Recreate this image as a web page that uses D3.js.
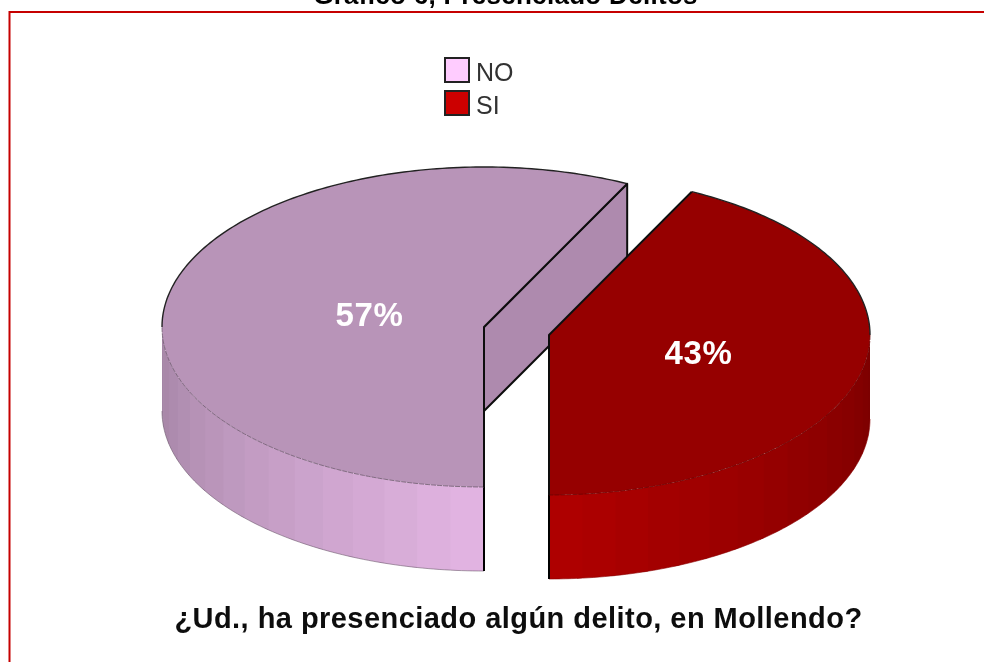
<!DOCTYPE html>
<html><head><meta charset="utf-8">
<script src="https://cdnjs.cloudflare.com/ajax/libs/d3/7.8.5/d3.min.js"></script>
<style>html,body{margin:0;padding:0;background:#fff;overflow:hidden}svg{display:block}text{font-family:"Liberation Sans",Arial,sans-serif}</style>
</head><body><svg id="c" width="984" height="662"></svg>
<script>
const categories = ["NO", "SI"];
const values = [57, 43];
const labels = ["57%", "43%"];
const legendColors = ["#ffccff", "#cc0000"];
const chartTitle = "Gráfico 6, Presenciado Delitos";
const axisTitle = "¿Ud., ha presenciado algún delito, en Mollendo?";

const svg = d3.select("#c");
const defs = svg.append("defs");
const soft = defs.append("filter").attr("id","soft").attr("x","-5%").attr("y","-5%").attr("width","110%").attr("height","110%");
soft.append("feGaussianBlur").attr("stdDeviation",0.45);
const softText = defs.append("filter").attr("id","softText").attr("x","-5%").attr("y","-20%").attr("width","110%").attr("height","140%");
softText.append("feGaussianBlur").attr("stdDeviation",0.35);

const deg = Math.PI/180;
const arcs = d3.pie().sort(null).value(d=>d).startAngle(Math.PI).endAngle(3*Math.PI)(values);
// the 3D projection shifts the cut slightly from the true pie angle
const tilt = d3.scaleLinear().domain([Math.PI, arcs[0].endAngle, 3*Math.PI]).range([Math.PI, 386.4*deg, 3*Math.PI]);

const geo = [
  {cx:484, cy:327, rx:322, ry:160, depth:84, top:"#b894b8", cut:"#ae8aae", low:"#a283a3", high:"#e3b5e3", from:180, to:270},
  {cx:549, cy:335, rx:321, ry:160, depth:84, top:"#960000", cut:"#960000", low:"#7a0000", high:"#b00000", from:90, to:180}
];
const pt = (g,a,dy=0)=>[g.cx+g.rx*Math.sin(a), g.cy-g.ry*Math.cos(a)+dy];
const line = d3.line();
const arcPts = (g,a0,a1,dy=0)=>{
  const n = Math.max(2,Math.ceil(Math.abs(a1-a0)/deg));
  return d3.range(n+1).map(i=>pt(g,a0+(a1-a0)*i/n,dy));
};

// frame
svg.append("path").attr("d",line([[9.5,662],[9.5,12],[984,12]]))
  .attr("fill","none").attr("stroke","#c60000").attr("stroke-width",2);

// title (cut by the top of the picture, as in the reference)
svg.append("text").attr("x",505.5).attr("y",4).attr("text-anchor","middle")
  .attr("font-size",26).attr("letter-spacing",0.3).attr("font-weight","bold").attr("fill","#000")
  .attr("filter","url(#softText)").text(chartTitle);

const chart = svg.append("g").attr("filter","url(#soft)");

arcs.forEach((d,i)=>{
  const g = geo[i], gr = chart.append("g");
  const isNo = i===0;
  const sa = tilt(d.startAngle), ea = tilt(d.endAngle);
  const color = d3.scaleLinear().domain(isNo?[g.to,g.from]:[g.from,g.to]).range([g.low,g.high]);
  const c=[g.cx,g.cy];
  // inner cut face of NO, seen through the gap
  if(isNo){
    const e = pt(g,ea);
    gr.append("path").attr("d",line([c,e,[e[0],e[1]+g.depth],[c[0],c[1]+g.depth]])+"Z")
      .attr("fill",g.cut).attr("stroke","#111").attr("stroke-width",2).attr("stroke-linejoin","round");
  }
  // shaded outer wall: painted so that each strip overlaps the next
  const step = 6;
  const edges = d3.range(g.from,g.to,step).concat([g.to]);
  const pairs = d3.pairs(edges);
  pairs.forEach(([a0,a1],k)=>{
    const over = k===pairs.length-1 ? a1 : a1+1;
    const top = arcPts(g,a0*deg,over*deg), bot = arcPts(g,over*deg,a0*deg,g.depth);
    gr.append("path").attr("d",line(top.concat(bot))+"Z").attr("fill",color((a0+a1)/2));
  });
  // wall outline along the bottom
  gr.append("path").attr("d",line(arcPts(g,g.from*deg,g.to*deg,g.depth)))
    .attr("fill","none").attr("stroke",isNo?"#6f5a6f":"#8a0000").attr("stroke-width",0.6);
  // vertical edge at the front of the cut
  gr.append("path").attr("d",line([c,[c[0],c[1]+g.ry+g.depth]]))
    .attr("fill","none").attr("stroke","#000").attr("stroke-width",2);
  // top face
  gr.append("path").attr("d",line(arcPts(g,sa,ea))+"L"+c.join(",")+"Z").attr("fill",g.top);
  // top outline: back of the rim is solid, front is thin and faint
  const back = isNo ? arcPts(g,270*deg,ea) : arcPts(g,sa,450*deg);
  gr.append("path").attr("d",line(back)).attr("fill","none").attr("stroke","#222").attr("stroke-width",1.4);
  const front = isNo ? arcPts(g,sa,270*deg) : arcPts(g,450*deg,ea);
  gr.append("path").attr("d",line(front)).attr("fill","none").attr("stroke",isNo?"#6f5a6f":"#6a0000")
    .attr("stroke-width",0.8).attr("stroke-dasharray","5 1");
  // radial cut edge
  gr.append("path").attr("d",line([pt(g,isNo?ea:sa),c,[c[0],c[1]+g.ry]]))
    .attr("fill","none").attr("stroke","#111").attr("stroke-width",2).attr("stroke-linejoin","round");
});

// percent labels
const labelPos = [[369.5,326],[698.5,364]];
svg.selectAll("text.pct").data(labels).join("text").attr("class","pct")
  .attr("x",(d,i)=>labelPos[i][0]).attr("y",(d,i)=>labelPos[i][1]).attr("text-anchor","middle")
  .attr("font-size",33).attr("letter-spacing",0.6).attr("font-weight","bold").attr("fill","#fff")
  .attr("filter","url(#softText)").text(d=>d);

// legend
const legendY = d3.scaleBand().domain(categories).range([54,120]);
const leg = svg.selectAll("g.leg").data(categories).join("g").attr("class","leg")
  .attr("transform",d=>`translate(0,${legendY(d)})`);
leg.append("rect").attr("x",445).attr("y",4).attr("width",24).attr("height",24)
  .attr("fill",(d,i)=>legendColors[i]).attr("stroke","#222").attr("stroke-width",2).attr("filter","url(#softText)");
leg.append("text").attr("x",476).attr("y",27).attr("font-size",25).attr("fill","#333")
  .attr("filter","url(#softText)").text(d=>d);

// bottom caption
svg.append("text").attr("x",518.5).attr("y",628).attr("text-anchor","middle")
  .attr("font-size",29).attr("letter-spacing",0.45).attr("font-weight","bold").attr("fill","#111")
  .attr("filter","url(#softText)").text(axisTitle);
</script></body></html>
